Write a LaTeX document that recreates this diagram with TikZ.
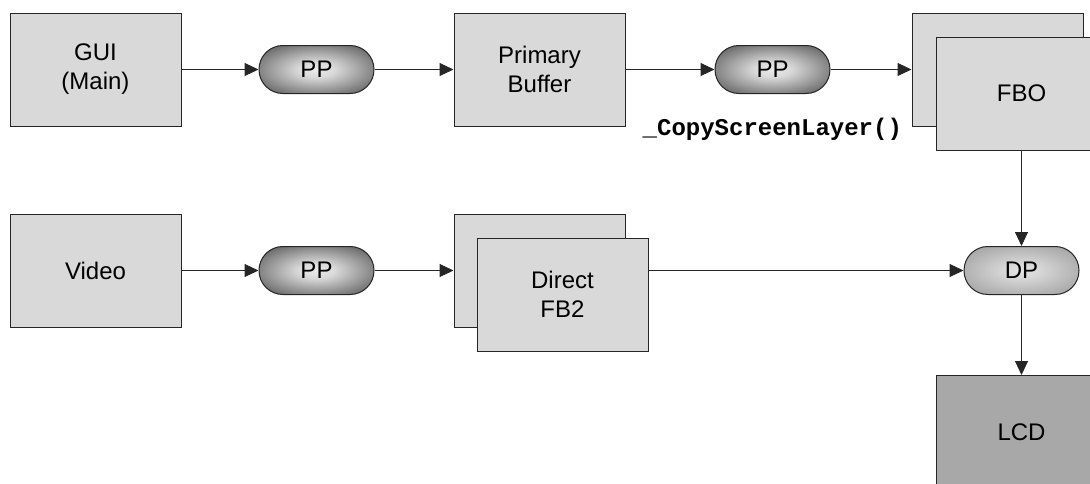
\documentclass[tikz,border=0pt]{standalone}
\usepackage{fontspec}
\setmainfont{Liberation Sans}
\setmonofont{Liberation Mono}
\usetikzlibrary{positioning, arrows.meta}

\definecolor{boxgray}{HTML}{D9D9D9}
\definecolor{lcdgray}{HTML}{A8A8A8}
\pgfdeclareradialshading{ppshade}{\pgfpoint{0bp}{0bp}}{color(0bp)=(black!8); color(8bp)=(black!15); color(42bp)=(black!82); color(50bp)=(black!85)}
\pgfdeclareradialshading{dpshade}{\pgfpoint{0bp}{0bp}}{color(0bp)=(black!10); color(8bp)=(black!16); color(42bp)=(black!45); color(50bp)=(black!48)}

\begin{document}
\begin{tikzpicture}[x=1pt, y=-1pt,
      block/.style={draw=black!85, line width=1pt, fill=boxgray, align=center, minimum width=171pt, minimum height=113pt, inner sep=0pt, font=\fontsize{24}{29}\selectfont},
      lcd/.style={block, fill=lcdgray},
      pp/.style={draw=black!85, line width=1pt, shading=ppshade, rounded corners=23.9pt, minimum width=115pt, minimum height=48pt, inner sep=0pt, font=\fontsize{24}{29}\selectfont},
      dp/.style={pp, shading=dpshade},
      flow/.style={-{Triangle[length=14pt, width=13pt]}, line width=1pt, draw=black!85}
    ]
    \clip (0,0) rectangle (1090,483);

    % upper row
    \node[block]                          (gui)     at (95.5,69.5) {GUI\\(Main)};
    \node[pp, right=77pt of gui]          (ppgui)   {PP};
    \node[block, right=79pt of ppgui]     (primary) {Primary\\Buffer};
    \node[pp, right=89pt of primary]      (ppcopy)  {PP};
    \node[block, right=81pt of ppcopy]    (fboback) {};
    \node[block, xshift=24pt, yshift=-24pt] (fbo) at (fboback) {FBO};
    \node[anchor=base east, xshift=-6pt, yshift=-9pt, font=\fontsize{24}{29}\selectfont\ttfamily\bfseries]
                                          (copylbl) at (fboback.south west) {\_CopyScreenLayer()};

    % lower row
    \node[block]                          (video)   at (95.5,270.5) {Video};
    \node[pp, right=77pt of video]        (ppvideo) {PP};
    \node[block, right=79pt of ppvideo]   (fb2back) {};
    \node[block, xshift=23pt, yshift=-24pt] (fb2) at (fb2back) {Direct\\FB2};
    \node[dp]                             (dp)      at (fbo |- fb2back) {DP};
    \node[lcd, below=80pt of dp]          (lcd)     {LCD};

    \draw[flow] (gui)     -- (ppgui);
    \draw[flow] (ppgui)   -- (primary);
    \draw[flow] (primary) -- (ppcopy);
    \draw[flow] (ppcopy)  -- (fboback);
    \draw[flow] (fbo)     -- (dp);
    \draw[flow] (video)   -- (ppvideo);
    \draw[flow] (ppvideo) -- (fb2back);
    \draw[flow] (fb2.east |- dp) -- (dp);
    \draw[flow] (dp)      -- (lcd);
  \end{tikzpicture}
\end{document}
